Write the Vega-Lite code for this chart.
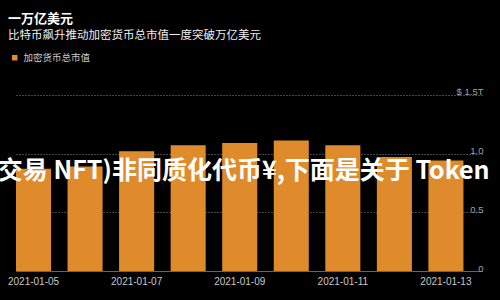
{
  "$schema": "https://vega.github.io/schema/vega-lite/v6.json",
  "width": 466,
  "height": 188,
  "autosize": {"type": "none"},
  "padding": {"left": 16, "top": 83, "right": 18, "bottom": 29},
  "background": "#000000",
  "title": {
    "text": "一万亿美元",
    "subtitle": "比特币飙升推动加密货币总市值一度突破万亿美元",
    "anchor": "start",
    "frame": "group",
    "dx": -8,
    "offset": 12,
    "font": "Noto Sans CJK SC",
    "fontSize": 13,
    "fontWeight": "bold",
    "color": "#ffffff",
    "subtitleFont": "Noto Sans CJK SC",
    "subtitleFontSize": 11.5,
    "subtitleColor": "#f0f0f0",
    "subtitlePadding": 4
  },
  "config": {
    "view": {"stroke": null},
    "legend": {"symbolStrokeWidth": 0}
  },
  "layer": [
    {
      "data": {
        "values": [
          {"date": "2021-01-05", "value": 0.87, "series": "加密货币总市值"},
          {"date": "2021-01-06", "value": 0.89, "series": "加密货币总市值"},
          {"date": "2021-01-07", "value": 1.02, "series": "加密货币总市值"},
          {"date": "2021-01-08", "value": 1.07, "series": "加密货币总市值"},
          {"date": "2021-01-09", "value": 1.09, "series": "加密货币总市值"},
          {"date": "2021-01-10", "value": 1.11, "series": "加密货币总市值"},
          {"date": "2021-01-11", "value": 1.07, "series": "加密货币总市值"},
          {"date": "2021-01-12", "value": 0.97, "series": "加密货币总市值"},
          {"date": "2021-01-13", "value": 0.94, "series": "加密货币总市值"}
        ]
      },
      "mark": {"type": "bar"},
      "encoding": {
        "x": {
          "field": "date",
          "type": "ordinal",
          "scale": {"paddingInner": 0.32, "paddingOuter": 0.18, "align": 0},
          "axis": {
            "title": null,
            "values": ["2021-01-05", "2021-01-07", "2021-01-09", "2021-01-11", "2021-01-13"],
            "labelAngle": 0,
            "labelColor": "#c8c8c8",
            "labelFont": "Liberation Sans",
            "labelFontSize": 10,
            "labelPadding": 5,
            "ticks": false,
            "domainColor": "#666666",
            "domainWidth": 1.2
          }
        },
        "y": {
          "field": "value",
          "type": "quantitative",
          "scale": {"domain": [0, 1.5]},
          "axis": {
            "orient": "right",
            "title": null,
            "values": [0, 0.5, 1, 1.5],
            "labelExpr": "datum.value == 1.5 ? '$ 1.5T' : datum.value == 0 ? '0' : format(datum.value, '.1f')",
            "grid": true,
            "gridDash": [1, 2],
            "gridColor": "#888888",
            "domain": false,
            "ticks": false,
            "labelAlign": "right",
            "labelBaseline": "alphabetic",
            "labelDy": -5,
            "labelPadding": 1,
            "labelColor": "#a0a0a0",
            "labelFont": "Liberation Sans",
            "labelFontSize": 9.5
          }
        },
        "color": {
          "field": "series",
          "type": "nominal",
          "scale": {"range": ["#DF8B2B"]},
          "legend": {
            "title": null,
            "orient": "none",
            "legendX": -6,
            "legendY": -30,
            "symbolType": "square",
            "symbolSize": 30,
            "labelColor": "#cccccc",
            "labelFont": "Noto Sans CJK SC",
            "labelFontSize": 9.5,
            "labelOffset": 4
          }
        }
      }
    },
    {
      "data": {
        "values": [
          {"date": "2021-01-09", "value": 0.85, "text": "交易 NFT)非同质化代币¥,下面是关于 Token"}
        ]
      },
      "mark": {
        "type": "text",
        "color": "#ffffff",
        "font": "Noto Sans CJK SC",
        "fontSize": 25,
        "fontWeight": "bold",
        "align": "center",
        "baseline": "middle",
        "dx": 4
      },
      "encoding": {
        "x": {"field": "date", "type": "ordinal"},
        "y": {"field": "value", "type": "quantitative"},
        "text": {"field": "text"}
      }
    }
  ]
}
